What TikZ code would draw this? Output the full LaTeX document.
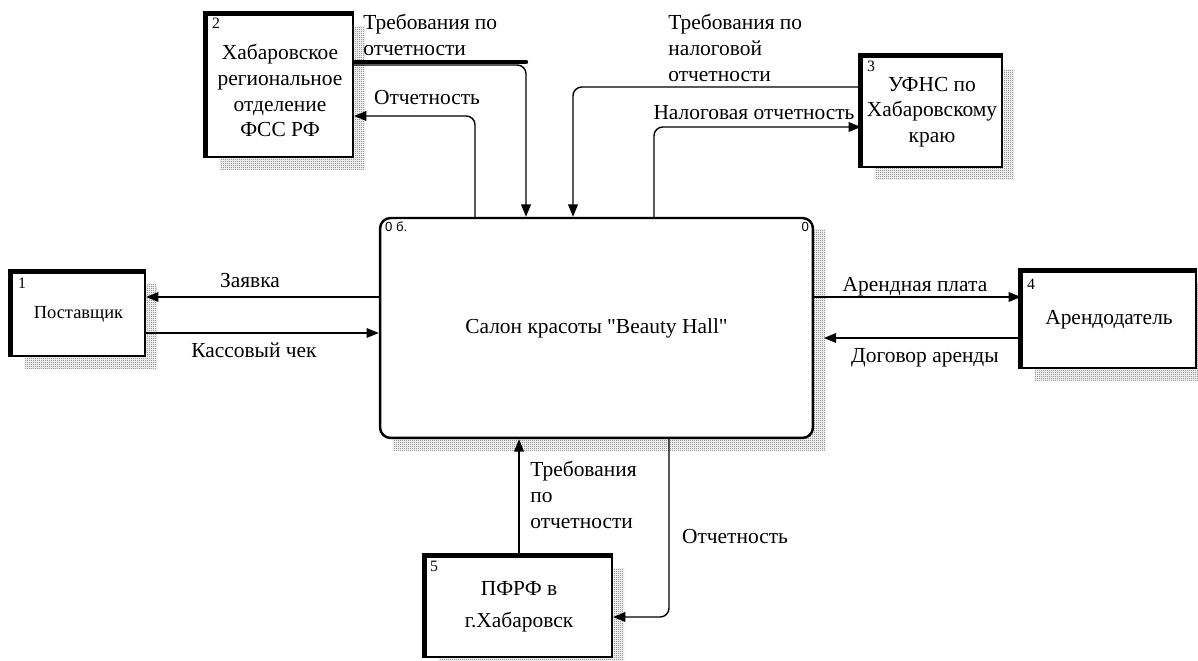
\documentclass[tikz,border=0pt]{standalone}
\usepackage{fontspec}
\setmainfont{Liberation Serif}[Ligatures=TeXOff]
\setsansfont{Liberation Sans}
\usetikzlibrary{arrows.meta,calc,patterns,backgrounds}
\newcommand\lblfont{\fontsize{12.2}{14.6}\selectfont}
\pgfdeclarepatternformonly{finedots}{\pgfpointorigin}{\pgfpoint{1.2pt}{1.2pt}}{\pgfpoint{1.2pt}{1.2pt}}
  {\pgfpathrectangle{\pgfpointorigin}{\pgfpoint{0.6pt}{0.6pt}}
   \pgfpathrectangle{\pgfpoint{0.6pt}{0.6pt}}{\pgfpoint{0.6pt}{0.6pt}}\pgfusepath{fill}}
\tikzset{
  ent/.style={draw, fill=white, line width=1.3pt, align=center, inner sep=0pt, font=\lblfont},
  proc/.style={draw, fill=white, rounded corners=6pt, line width=1.4pt, font=\lblfont},
  flow/.style={line width=0.8pt, rounded corners=5pt, -{Triangle[length=7pt,width=5.5pt]}},
  lbl/.style={font=\lblfont, align=left, inner sep=0pt},
  num/.style={font=\fontsize{9}{10}\selectfont, inner sep=0pt, anchor=north west},
  shade/.style={pattern=finedots, pattern color=gray!80!black}
}
\begin{document}
\begin{tikzpicture}[x=0.02cm,y=-0.02cm]
\useasboundingbox (0,0) rectangle (1198,661);
% boxes
\node[proc, minimum width=8.66cm, minimum height=4.4cm] (main) at (596.5,328) {Салон красоты "Beauty Hall"};
\node[ent, minimum width=2.66cm, minimum height=1.66cm, font=\fontsize{10.5}{12}\selectfont] (sup) at (78.5,314.5) {Поставщик};
\node[ent, minimum width=2.92cm, minimum height=2.84cm] (fss) at (280,86) {\\[-0.5pt]Хабаровское\\региональное\\отделение\\ФСС РФ};
\node[ent, minimum width=2.8cm, minimum height=2.2cm] (fns) at (932,112) {УФНС по\\Хабаровскому\\краю};
\node[ent, minimum width=3.48cm, minimum height=1.92cm] (land) at (1109,320) {Арендодатель};
\node[ent, minimum width=3.72cm, minimum height=2.0cm, font=\fontsize{12.2}{18.5}\selectfont] (pfr) at (519,607) {ПФРФ в\\г.Хабаровск};
\foreach \b in {sup,fss,fns,land,pfr}
  \draw[line width=2.8pt] (\b.south west) -- (\b.north west) -- (\b.north east);
\begin{scope}[on background layer]
\foreach \b in {sup,fss,fns,land,pfr,main}
  \fill[shade] ($(\b.north west)+(14,13)$) rectangle ($(\b.south east)+(11,11)$);
\end{scope}
% numbers
\node[num] (n1) at ($(sup.north west)+(7,6)$) {1};
\node[num] (n2) at ($(fss.north west)+(6,4)$) {2};
\node[num] (n3) at ($(fns.north west)+(6,5)$) {3};
\node[num] (n4) at ($(land.north west)+(6,8)$) {4};
\node[num] (n5) at ($(pfr.north west)+(5,5)$) {5};
\node[num, font=\sffamily\fontsize{7.5}{8}\selectfont] (m0) at ($(main.north west)+(6,5)$) {0 б.};
\node[num, anchor=north east, font=\sffamily\fontsize{7.5}{8}\selectfont] (m1) at ($(main.north east)+(-5,5)$) {0};
% connectors
\draw[flow] (main.west |- 0,297) -- (sup.east |- 0,297);
\draw[flow] (sup.east |- 0,333) -- (main.west |- 0,333);
\draw[flow] (main.east |- 0,297) -- (land.west |- 0,297);
\draw[flow, shorten >=5.5pt] (land.west |- 0,338) -- (main.east |- 0,338);
\coordinate (tk) at (526,62);
\draw[line width=2.5pt, line cap=round] (fss.east |- tk) -- (tk);
\draw[flow] (fss.east |- 0,65) -| (main.north -| 526,0);
\draw[flow] (main.north -| 475,0) |- (fss.east |- 0,116);
\draw[flow] (fns.west |- 0,87) -| (main.north -| 573,0);
\draw[flow] (main.north -| 654,0) |- (fns.west |- 0,127);
\draw[flow] (pfr.north) -- (main.south -| pfr.north);
\draw[flow] (main.south -| 669,0) |- (pfr.east |- 0,617);
% labels
\node[lbl, anchor=west] (l1) at (363,35) {Требования по\\отчетности};
\node[lbl] (l2) at (427,98) {Отчетность};
\node[lbl, anchor=west] (l3) at (668,48) {Требования по\\налоговой\\отчетности};
\node[lbl] (l4) at (754,113) {Налоговая отчетность};
\node[lbl] (l5) at (250,281) {Заявка};
\node[lbl] (l6) at (254,350) {Кассовый чек};
\node[lbl] (l7) at (915,287) {Арендная плата};
\node[lbl] (l8) at (925,358) {Договор аренды};
\node[lbl, anchor=west] (l9) at (530,495) {Требования\\по\\отчетности};
\node[lbl] (l10) at (735,537) {Отчетность};
\end{tikzpicture}
\end{document}
